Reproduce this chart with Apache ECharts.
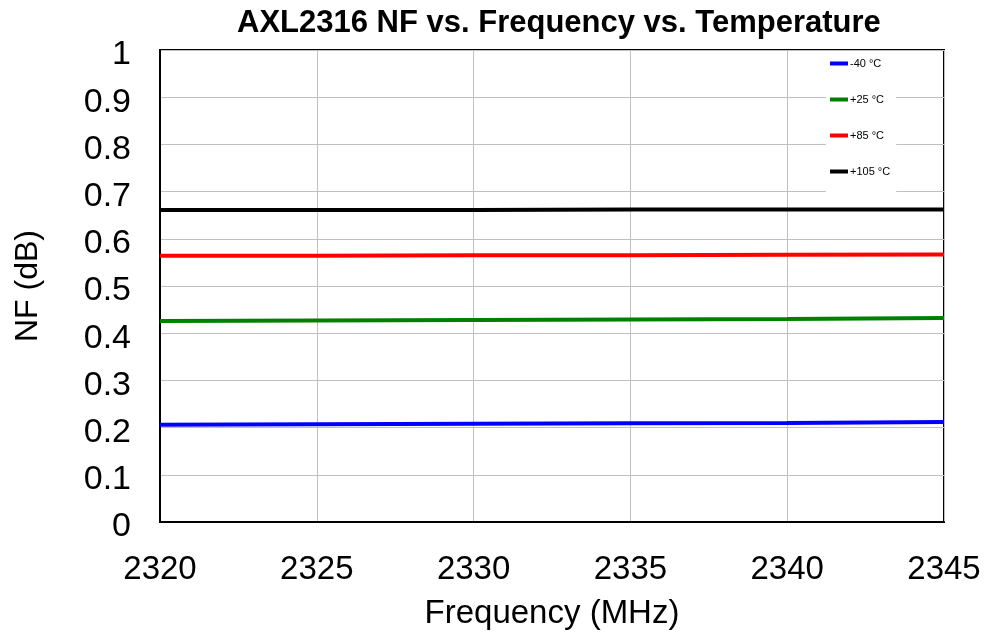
<!DOCTYPE html>
<html>
<head>
<meta charset="utf-8">
<script src="https://cdn.jsdelivr.net/npm/echarts@6/dist/echarts.min.js"></script>
<style>
  html, body { margin: 0; padding: 0; background: #fff; }
  #chart { width: 990px; height: 635px; }
</style>
</head>
<body>
<div id="chart"></div>
<script>
  // frequency points (MHz)
  var freqs = [2320, 2325, 2330, 2335, 2340, 2345];
  var tempNames = ['-40 °C', '+25 °C', '+85 °C', '+105 °C'];
  var tempColors = ['#0000ff', '#008000', '#ff0000', '#000000'];
  // NF (dB) per temperature
  var nfM40 = [0.206, 0.207, 0.208, 0.209, 0.210, 0.212];
  var nfP25 = [0.426, 0.427, 0.428, 0.429, 0.430, 0.432];
  var nfP85 = [0.564, 0.564, 0.565, 0.565, 0.566, 0.567];
  var nfP105 = [0.661, 0.661, 0.661, 0.662, 0.662, 0.662];

  var allNf = [nfM40, nfP25, nfP85, nfP105];

  var myChart = echarts.init(document.getElementById('chart'));

  var series = tempNames.map(function (name, i) {
    return {
      name: name,
      type: 'line',
      showSymbol: false,
      symbol: 'none',
      lineStyle: { width: 4, color: tempColors[i] },
      itemStyle: { color: tempColors[i] },
      data: freqs.map(function (f, j) { return [f, allNf[i][j]] })
    }
  })

  var option = {
    animation: false,
    backgroundColor: '#fff',
    textStyle: { fontFamily: 'Liberation Sans, Arial, sans-serif' },
    title: {
      text: 'AXL2316 NF vs. Frequency vs. Temperature',
      left: 232,
      top: 3,
      textStyle: {
        fontSize: 31,
        fontWeight: 'bold',
        color: '#000',
        fontFamily: 'Liberation Sans, Arial, sans-serif'
      }
    },
    grid: {
      left: 160,
      right: 46,
      top: 50,
      bottom: 112,
      show: true,
      borderColor: '#000',
      borderWidth: 2
    },
    legend: {
      orient: 'vertical',
      left: 826,
      top: 51,
      padding: [7, 6, 18, 4],
      itemGap: 25,
      icon: 'rect',
      itemWidth: 18,
      itemHeight: 4,
      backgroundColor: '#fff',
      textStyle: { fontSize: 11, color: '#000', padding: [0, 0, 0, -3] },
      data: tempNames
    },
    xAxis: {
      type: 'value',
      min: 2320,
      max: 2345,
      interval: 5,
      name: 'Frequency (MHz)',
      nameLocation: 'middle',
      nameGap: 75,
      nameTextStyle: { fontSize: 33, color: '#000' },
      axisLine: { show: true, lineStyle: { color: '#000', width: 2 } },
      axisTick: { show: false },
      axisLabel: {
        fontSize: 33,
        color: '#000',
        margin: 31,
        formatter: function (v) { return String(v) }
      },
      splitLine: { show: true, lineStyle: { color: '#c0c0c0', width: 1 } }
    },
    yAxis: {
      type: 'value',
      min: 0,
      max: 1,
      interval: 0.1,
      name: 'NF (dB)',
      nameLocation: 'middle',
      nameRotate: 90,
      nameGap: 116,
      nameTextStyle: { fontSize: 32, color: '#000' },
      axisLine: { show: true, lineStyle: { color: '#000', width: 2 } },
      axisTick: { show: false },
      axisLabel: {
        color: '#000',
        margin: 29,
        formatter: function (v) { return '{t|' + v + '}' },
        rich: {
          t: { fontSize: 34, color: '#000', padding: [10, 0, 0, 0] }
        }
      },
      splitLine: { show: true, lineStyle: { color: '#c0c0c0', width: 1 } }
    },
    series: series
  };

  myChart.setOption(option, true);
</script>
</body>
</html>
